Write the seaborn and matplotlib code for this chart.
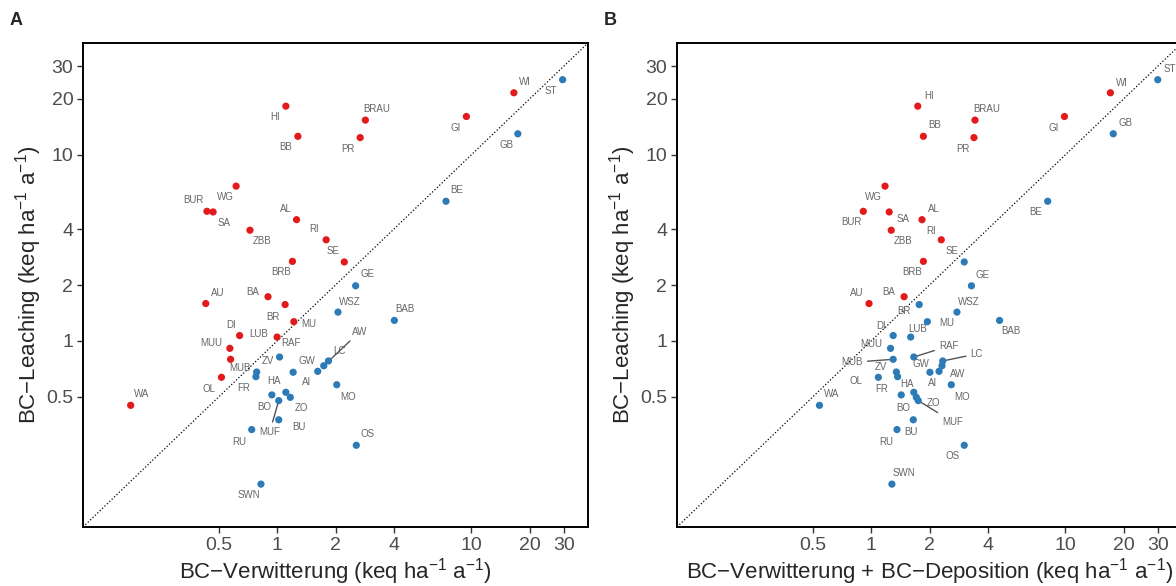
import matplotlib
matplotlib.use("Agg")
import matplotlib.pyplot as plt
import seaborn as sns
import numpy as np
import pandas as pd


sns.set_style("ticks")
plt.rcParams["font.family"] = ["Liberation Sans", "DejaVu Sans"]
plt.rcParams["mathtext.fontset"] = "custom"
plt.rcParams["mathtext.rm"] = "Liberation Sans"
plt.rcParams["mathtext.it"] = "Liberation Sans:italic"


# site codes, leaching and weathering (keq ha-1 a-1)
sites = ["HI", "BB", "WG", "BUR", "SA", "AL", "ZBB", "RI", "BRB", "WI", "ST",
         "BRAU", "PR", "GI", "GB", "BE", "SE", "GE", "AU", "BA", "BR", "MU",
         "DI", "LUB", "MUU", "MUB", "OL", "WA", "RAF", "ZV", "FR", "GW", "AI",
         "LC", "AW", "WSZ", "BAB", "MO", "OS", "HA", "BO", "ZO", "MUF", "BU",
         "RU", "SWN"]
leaching = [18.3, 12.6, 6.8, 4.98, 4.94, 4.49, 3.94, 3.5, 2.68, 21.6, 25.4,
            15.4, 12.4, 16.1, 13.0, 5.64, 2.66, 1.98, 1.59, 1.73, 1.57, 1.27,
            1.07, 1.05, 0.913, 0.797, 0.638, 0.451, 0.82, 0.681, 0.643, 0.687, 0.679,
            0.781, 0.736, 1.43, 1.29, 0.582, 0.275, 0.53, 0.513, 0.498, 0.478, 0.377,
            0.334, 0.17]
weathering = [1.11, 1.28, 0.615, 0.435, 0.468, 1.26, 0.725, 1.79, 1.20, 16.6, 29.6,
              2.85, 2.68, 9.45, 17.4, 7.42, 2.22, 2.54, 0.429, 0.898, 1.10, 1.22,
              0.641, 1.00, 0.571, 0.576, 0.517, 0.176, 1.03, 0.785, 0.778, 1.62, 1.21,
              1.84, 1.74, 2.06, 4.02, 2.03, 2.56, 1.11, 0.94, 1.17, 1.02, 1.02,
              0.74, 0.826]
weathering_dep = [1.74, 1.86, 1.18, 0.912, 1.24, 1.83, 1.27, 2.30, 1.86, 17.1, 30.0,
                  3.43, 3.39, 9.92, 17.7, 8.13, 3.02, 3.29, 0.976, 1.48, 1.77, 1.95,
                  1.30, 1.60, 1.26, 1.30, 1.09, 0.542, 1.66, 1.35, 1.37, 2.24, 2.01,
                  2.34, 2.32, 2.77, 4.59, 2.59, 3.02, 1.66, 1.43, 1.71, 1.75, 1.65,
                  1.36, 1.28]

ticks = [0.5, 1, 2, 4, 10, 20, 30]
lims = (0.1, 40)

palette = {True: "#E31A1C", False: "#2C7BB6"}

# label offsets in pixels (dx right, dy down), like the repelled labels
offs_a = {
    "HI": (-11, 11), "BB": (-12, 11), "WG": (-11, 11), "BUR": (-13, -11),
    "SA": (11, 11), "AL": (-11, -11), "ZBB": (12, 11), "RI": (-12, -11),
    "BRB": (-11, 11), "SE": (-11, -11), "WI": (11, -11), "ST": (-12, 11),
    "BRAU": (11, -11), "PR": (-12, 11), "GI": (-11, 11), "GB": (-11, 11),
    "BE": (11, -11), "GE": (12, -12), "AU": (12, -11), "BA": (-15, -5),
    "BR": (-12, 12), "MU": (15, 2), "DI": (-9, -11), "LUB": (-18, -3),
    "MUU": (-19, -5), "MUB": (9, 9), "OL": (-12, 12), "WA": (11, -11),
    "RAF": (11, -14), "ZV": (11, -11), "FR": (-12, 11), "GW": (-11, -10),
    "AI": (13, 10), "HA": (-12, -11), "BO": (-8, 12), "ZO": (11, 11),
    "MUF": (-9, 31), "BU": (20, 7), "RU": (-12, 12), "SWN": (-12, 11),
    "WSZ": (12, -10), "BAB": (11, -11), "AW": (36, -34), "LC": (11, -10),
    "MO": (11, 12), "OS": (11, -11),
}
offs_b = {
    "HI": (11, -10), "BB": (11, -11), "WG": (-12, 11), "BUR": (-12, 11),
    "SA": (14, 7), "ZBB": (12, 11), "BRB": (-11, 11), "BRAU": (12, -11),
    "PR": (-11, 11), "GI": (-11, 11), "WI": (12, -10), "ST": (12, -11),
    "GB": (12, -11), "BE": (-12, 11), "AL": (12, -11), "RI": (-10, -9),
    "SE": (-12, -11), "GE": (11, -11), "AU": (-12, -11), "BA": (-15, -5),
    "BR": (-15, 6), "DI": (-12, -10), "LUB": (7, -8), "MUU": (-19, -4),
    "MUB": (-41, 3), "ZV": (-15, -5), "OL": (-22, 4), "FR": (-16, 12),
    "WA": (12, -11), "HA": (-7, -8), "BO": (2, 13), "BU": (-2, 12),
    "RU": (-11, 12), "SWN": (12, -11), "MU": (19, 1), "WSZ": (12, -10),
    "BAB": (11, 11), "RAF": (35, -11), "GW": (-18, -7), "LC": (34, -7),
    "AW": (16, 8), "AI": (3, 11), "MO": (11, 12), "ZO": (17, 6),
    "MUF": (34, 21), "OS": (-12, 11),
}


def panel(ax, x, offs, xlabel, letter):
    df = pd.DataFrame({"site": sites, "x": x, "y": leaching})
    df["above"] = df["y"] > df["x"]

    ax.plot(lims, lims, ls=":", color="black", lw=0.9, zorder=1)
    sns.scatterplot(x="x", y="y", hue="above", data=df, palette=palette,
                    s=27, edgecolor="none", legend=False, ax=ax, zorder=3)

    for _, r in df.iterrows():
        dx, dy = offs[r["site"]]
        arrow = None
        if np.hypot(dx, dy) > 25:
            arrow = dict(arrowstyle="-", color="#555555", lw=1.0,
                         shrinkA=1, shrinkB=2)
        ax.annotate(r["site"], (r["x"], r["y"]), xytext=(dx, -dy),
                    textcoords="offset pixels", ha="center", va="center",
                    fontsize=7, color="#666666", arrowprops=arrow, zorder=2)

    ax.set_xscale("log")
    ax.set_yscale("log")
    ax.set_xlim(lims)
    ax.set_ylim(lims)
    ax.set_xticks(ticks)
    ax.set_yticks(ticks)
    ax.set_xticklabels([f"{t:g}" for t in ticks])
    ax.set_yticklabels([f"{t:g}" for t in ticks])
    ax.minorticks_off()
    ax.tick_params(labelsize=14, labelcolor="#4d4d4d", length=4, width=1,
                   color="#333333", pad=3)
    for s in ax.spines.values():
        s.set_linewidth(1.4)
        s.set_color("black")
    ax.set_xlabel(xlabel, fontsize=16, labelpad=1.5)
    ax.set_ylabel("BC\u2212Leaching (keq ha$^{-1}$ a$^{-1}$)", fontsize=16, labelpad=1.5)
    ax.text(-0.133, 1.0475, letter, transform=ax.transAxes, fontsize=13,
            fontweight="bold", ha="center", va="center")


fig = plt.figure(figsize=(11.76, 5.86), dpi=100)
ax_a = fig.add_axes([83 / 1176, 59 / 586, 505 / 1176, 484 / 586])
ax_b = fig.add_axes([677 / 1176, 59 / 586, 505 / 1176, 484 / 586])

panel(ax_a, weathering, offs_a, "BC\u2212Verwitterung (keq ha$^{-1}$ a$^{-1}$)", "A")
panel(ax_b, weathering_dep, offs_b,
      "BC\u2212Verwitterung + BC\u2212Deposition (keq ha$^{-1}$ a$^{-1}$)", "B")

plt.savefig("out.png", dpi=100)
